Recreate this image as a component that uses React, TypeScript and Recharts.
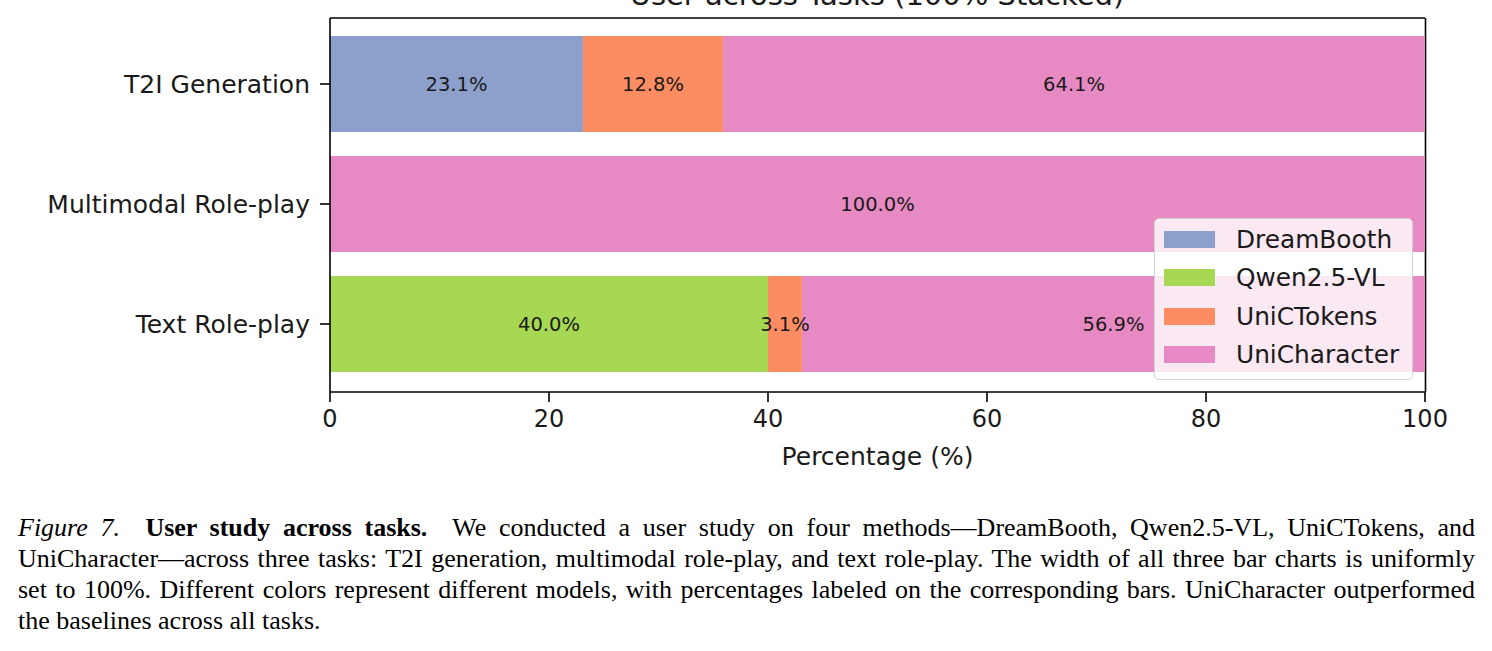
import React from 'react'
import { BarChart, Bar, XAxis, YAxis, Legend, LabelList, CartesianGrid } from 'recharts'

const tasks = ['T2I Generation', 'Multimodal Role-play', 'Text Role-play']
const dreamBooth = [23.1, 0, 0]
const qwen = [0, 0, 40.0]
const uniCTokens = [12.8, 0, 3.1]
const uniCharacter = [64.1, 100.0, 56.9]
const xTicks = [0, 20, 40, 60, 80, 100]

const series = [
  { key: 'DreamBooth', color: '#8da0cb' },
  { key: 'Qwen2.5-VL', color: '#a6d854' },
  { key: 'UniCTokens', color: '#fc8d62' },
  { key: 'UniCharacter', color: '#e78ac3' },
]

const data = tasks.map((task, i) => ({
  task,
  'DreamBooth': dreamBooth[i],
  'Qwen2.5-VL': qwen[i],
  'UniCTokens': uniCTokens[i],
  'UniCharacter': uniCharacter[i],
}))

const FONT = 'DejaVu Sans'
const INK = '#1a1a1a'
const xText = { fontSize: 24, fill: INK, fontFamily: FONT }
const yText = { fontSize: 25, fill: INK, fontFamily: FONT }

const pct = (v: any) => (v > 0 ? `${Number(v).toFixed(1)}%` : '')

function LegendBox({ payload }: any) {
  return (
    <div style={{
      background: 'rgba(255,255,255,0.8)', border: '1px solid #d0d0d0', borderRadius: 5,
      padding: '1px 0 5px 0', boxSizing: 'border-box', fontFamily: FONT, fontSize: 24.8, color: INK,
    }}>
      {(payload || []).map((p: any) => (
        <div key={p.value} style={{ display: 'flex', alignItems: 'center', height: 38.5 }}>
          <span style={{ display: 'inline-block', width: 51, height: 17, background: p.color, marginLeft: 9, marginRight: 21 }} />
          <span>{p.value}</span>
        </div>
      ))}
    </div>
  )
}

const captionLine = { textAlign: 'justify' as const, textAlignLast: 'justify' as const, whiteSpace: 'nowrap' as const }

export default function App() {
  return (
    <div style={{ position: 'absolute', left: 0, top: 0, width: 1492, height: 651, background: '#fff', overflow: 'hidden' }}>
      <svg width={1492} height={20} style={{ position: 'absolute', left: 0, top: 0 }}>
        <text x={877} y={5} textAnchor="middle" fontFamily={FONT} fontSize={29} fill={INK}>
          User across Tasks (100% Stacked)
        </text>
      </svg>
      <div style={{ position: 'absolute', left: 0, top: 0, fontFamily: FONT }}>
        <BarChart width={1492} height={470} data={data} layout="vertical"
          margin={{ top: 18, right: 67, bottom: 0, left: 0 }}>
          {/* frame: top and right edges of the axes box */}
          <CartesianGrid stroke="#000" strokeWidth={1.6}
            horizontalCoordinatesGenerator={({ offset }: any) => [offset.top]}
            verticalCoordinatesGenerator={({ offset }: any) => [offset.left + offset.width + 0.5]} />
          <XAxis type="number" domain={[0, 100]} ticks={xTicks} allowDataOverflow
            tick={xText} tickSize={10} tickMargin={8} height={78}
            axisLine={{ stroke: '#000', strokeWidth: 1.6 }} tickLine={{ stroke: '#000', strokeWidth: 1.6 }}
            label={{ value: 'Percentage (%)', position: 'insideBottom', offset: 5, ...yText }} />
          <YAxis type="category" dataKey="task" width={330} padding={{ top: 6, bottom: 8 }}
            tick={yText} tickSize={10} tickMargin={10}
            axisLine={{ stroke: '#000', strokeWidth: 1.6 }} tickLine={{ stroke: '#000', strokeWidth: 1.6 }} />
          {series.map(s => (
            <Bar key={s.key} dataKey={s.key} name={s.key} stackId="a" fill={s.color} barSize={96} isAnimationActive={false}>
              <LabelList dataKey={s.key} position="center" formatter={pct}
                fill={INK} fontSize={19.5} fontFamily={FONT} />
            </Bar>
          ))}
          <Legend layout="horizontal" verticalAlign="middle" align="center"
            wrapperStyle={{ left: 1154, top: 218, width: 259 }} content={LegendBox} />
        </BarChart>
      </div>
      <div style={{
        position: 'absolute', left: 18, top: 512, width: 1457,
        fontFamily: '"Liberation Serif", serif', fontSize: 26, lineHeight: '31px', color: '#000',
      }}>
        <div style={captionLine}>
          <i>Figure 7.</i>&nbsp; <b>User study across tasks.</b>&nbsp; We conducted a user study on four methods—DreamBooth, Qwen2.5-VL, UniCTokens, and
        </div>
        <div style={captionLine}>
          UniCharacter—across three tasks: T2I generation, multimodal role-play, and text role-play. The width of all three bar charts is uniformly
        </div>
        <div style={captionLine}>
          set to 100%. Different colors represent different models, with percentages labeled on the corresponding bars. UniCharacter outperformed
        </div>
        <div style={{ whiteSpace: 'nowrap' }}>the baselines across all tasks.</div>
      </div>
    </div>
  )
}
